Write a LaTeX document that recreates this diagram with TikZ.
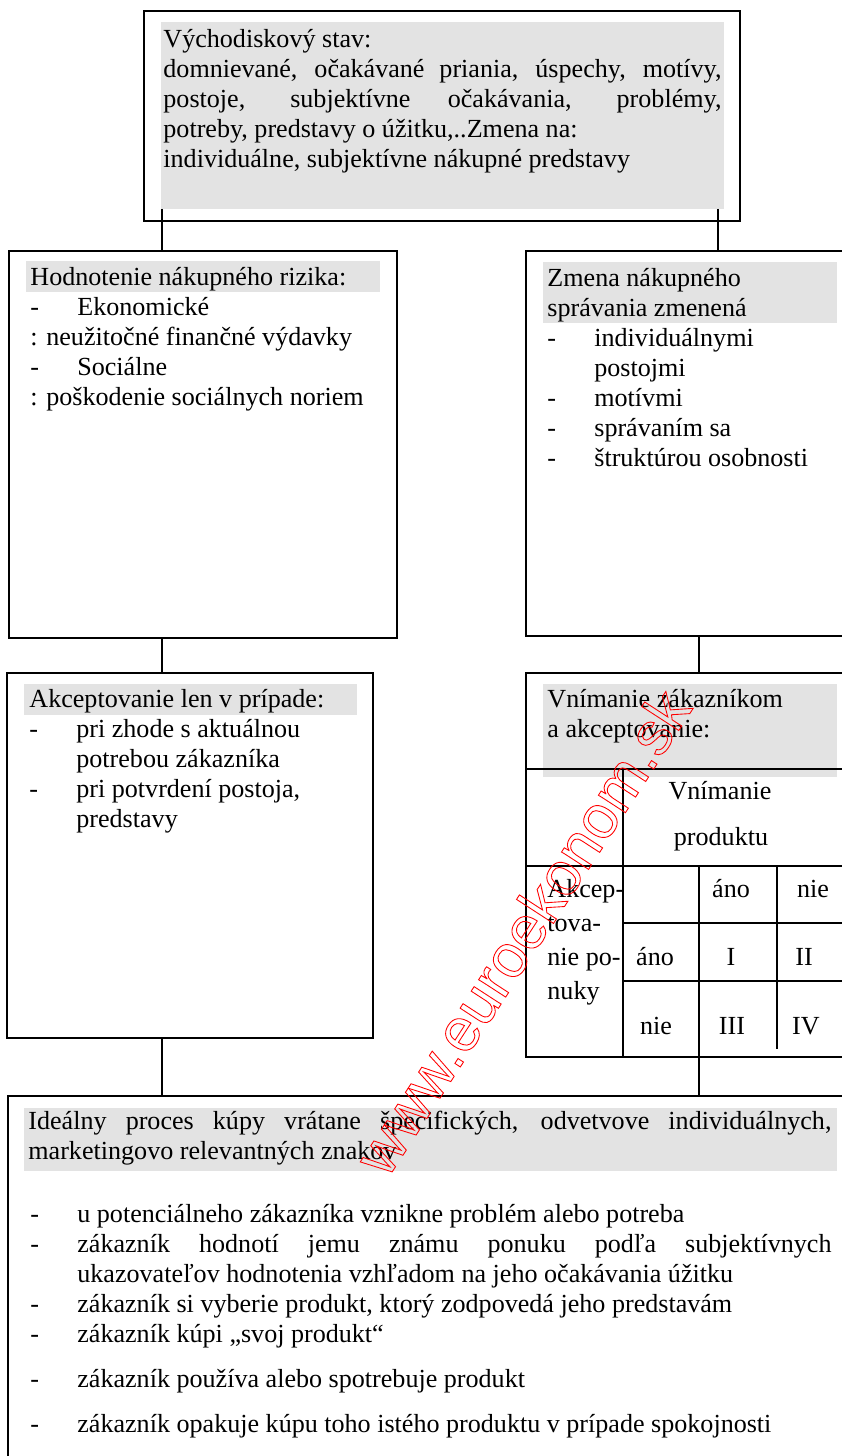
\documentclass[tikz,border=0pt]{standalone}
\usepackage{fontspec}
\setmainfont{Liberation Serif}
\newfontfamily\wmfont{Liberation Sans}
\usetikzlibrary{positioning}
\definecolor{hdrgray}{RGB}{227,227,227}
\tolerance=10000
\hyphenpenalty=10000
\newcommand{\dashitem}[1]{\hangindent=21.6pt\hangafter=1\noindent\makebox[21.6pt][l]{-}#1\par}
\newcommand{\outlinetext}[1]{\special{pdf:literal direct 1 Tr 0.4 w}#1\special{pdf:literal direct 0 Tr}}

\begin{document}
\begin{tikzpicture}[x=0.46pt, y=-0.46pt,
  box/.style={draw, line width=0.9pt, inner sep=0pt, outer sep=0pt, anchor=north west},
  hdr/.style={fill=hdrgray, inner sep=0pt, outer sep=0pt, anchor=north west},
  txt/.style={anchor=base west, inner sep=0pt, align=justify, font=\fontsize{12pt}{13.8pt}\selectfont},
  cell/.style={anchor=base, inner sep=0pt, font=\fontsize{12pt}{13.8pt}\selectfont},
  lcell/.style={cell, anchor=base west},
  link/.style={line width=0.9pt}]
 \useasboundingbox (0,0) rectangle (842,1456);
 \clip (0,0) rectangle (842,1456);

 % boxes
 \node[box, minimum width=274.2pt, minimum height=96.6pt] (start) at (144,11) {};
 \node[box, minimum width=178.5pt, minimum height=178pt] (risk) at (9,251) {};
 \node[box, minimum width=172pt, minimum height=177.1pt] (change) at (526,251) {};
 \node[box, minimum width=168.4pt, minimum height=167.9pt] (accept) at (7,673) {};
 \node[box, minimum width=172pt, minimum height=176.6pt] (percept) at (526,673) {};
 \node[box, minimum width=410.3pt, minimum height=195pt] (ideal) at (8,1096) {};

 % gray headers
 \node[hdr, minimum width=259pt, minimum height=86pt] (startfill) at (161,22) {};
 \node[hdr, minimum width=162.8pt, minimum height=14.3pt] (riskfill) at (26,261) {};
 \node[hdr, minimum width=135.2pt, minimum height=28.1pt] (changefill) at (543,262) {};
 \node[hdr, minimum width=153.2pt, minimum height=14.3pt] (acceptfill) at (24,684) {};
 \node[hdr, minimum width=135.2pt, minimum height=42.8pt] (perceptfill) at (543,684) {};
 \node[hdr, minimum width=374pt, minimum height=29pt] (idealfill) at (24,1108) {};

 % table inside the perception box
 \draw[link] (526,769) -- (860,769);
 \draw[link] (623,769) -- (623,1056);
 \draw[link] (526,866) -- (860,866);
 \draw[link] (699,866) -- (699,1057);
 \draw[link] (777,866) -- (777,1049);
 \draw[link] (623,923) -- (860,923);
 \draw[link] (623,981) -- (860,981);

 % connectors
 \coordinate (lcol) at (162,0);
 \coordinate (rtop) at (718,0);
 \coordinate (rlow) at (699,0);
 \draw[link] (startfill.south -| lcol) -- (risk.north -| lcol);
 \draw[link] (startfill.south -| rtop) -- (change.north -| rtop);
 \draw[link] (risk.south -| lcol) -- (accept.north -| lcol);
 \draw[link] (change.south -| rlow) -- (percept.north -| rlow);
 \draw[link] (accept.south -| lcol) -- (ideal.north -| lcol);
 \draw[link] (percept.south -| rlow) -- (ideal.north -| rlow);

 % texts
 \node[txt, text width=256.7pt] (starttxt) at (163,47) {Východiskový stav:\newline
  domnievané, očakávané priania, úspechy, motívy,\linebreak
  postoje, subjektívne očakávania, problémy,\linebreak
  potreby, predstavy o úžitku,..Zmena na:\newline
  individuálne, subjektívne nákupné predstavy};
 \node[txt, text width=161pt] (risktxt) at (30,285) {Hodnotenie nákupného rizika:\par
  \dashitem{Ekonomické}
  : neužitočné finančné výdavky\par
  \dashitem{Sociálne}
  : poškodenie sociálnych noriem};
 \node[txt, text width=133.4pt] (changetxt) at (547,286) {Zmena nákupného\newline správania zmenená\par
  \dashitem{individuálnymi\newline postojmi}
  \dashitem{motívmi}
  \dashitem{správaním sa}
  \dashitem{štruktúrou osobnosti}};
 \node[txt, text width=150.9pt] (accepttxt) at (29,707) {Akceptovanie len v prípade:\par
  \dashitem{pri zhode s aktuálnou\newline potrebou zákazníka}
  \dashitem{pri potvrdení postoja,\newline predstavy}};
 \node[txt, text width=133.4pt] (percepttxt) at (547,707) {Vnímanie zákazníkom\newline a akceptovanie:};

 \node[cell] (prod1) at (720,799) {Vnímanie};
 \node[cell] (prod2) at (721,845) {produktu};
 \node[lcell] (acc1) at (547,897) {Akcep-};
 \node[lcell] (acc2) at (547,931) {tova-};
 \node[lcell] (acc3) at (547,965) {nie po-};
 \node[lcell] (acc4) at (547,999) {nuky};
 \node[cell] (colyes) at (731,897) {áno};
 \node[cell] (colno) at (813,897) {nie};
 \node[cell] (rowyes) at (655,965) {áno};
 \node[cell] (q1) at (731,965) {I};
 \node[cell] (q2) at (804,965) {II};
 \node[cell] (rowno) at (656,1034) {nie};
 \node[cell] (q3) at (732,1034) {III};
 \node[cell] (q4) at (806,1034) {IV};

 \node[txt, text width=369.4pt] (idealtxt) at (28,1129) {Ideálny proces kúpy vrátane špecifických, odvetvove individuálnych,\linebreak
  marketingovo relevantných znakov};
 \node[txt, text width=368.5pt] (steps) at (30,1222) {%
  \dashitem{u potenciálneho zákazníka vznikne problém alebo potreba}
  \dashitem{zákazník hodnotí jemu známu ponuku podľa subjektívnych\linebreak ukazovateľov hodnotenia vzhľadom na jeho očakávania úžitku}
  \dashitem{zákazník si vyberie produkt, ktorý zodpovedá jeho predstavám}
  \dashitem{zákazník kúpi „svoj produkt“}
  \vspace{6.9pt}
  \dashitem{zákazník používa alebo spotrebuje produkt}
  \vspace{6.9pt}
  \dashitem{zákazník opakuje kúpu toho istého produktu v prípade spokojnosti}};

 % watermark
 \node[rotate=57, text=red, inner sep=0pt, font=\wmfont\fontsize{28pt}{30pt}\selectfont] (wm) at (522,932)
  {\outlinetext{www.euroekonom.sk}};
\end{tikzpicture}
\end{document}
